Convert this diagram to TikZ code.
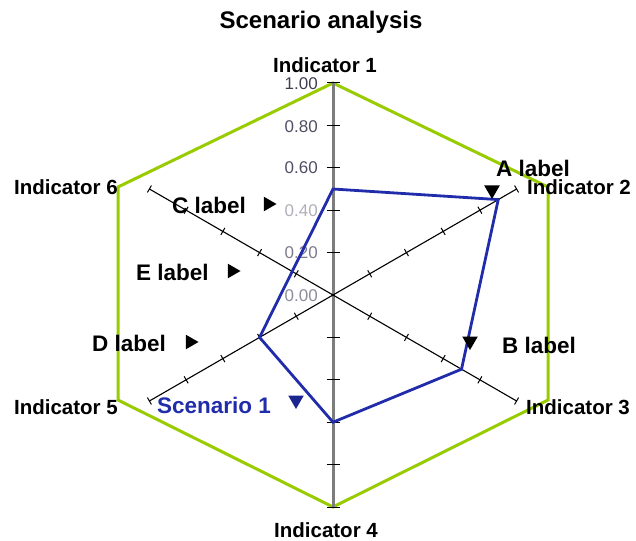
\documentclass[tikz,border=0pt]{standalone}
\usepackage{fontspec}
\setmainfont{Liberation Sans}
\usetikzlibrary{calc,shapes.geometric}
\definecolor{hexgreen}{RGB}{153,204,0}
\definecolor{scenblue}{RGB}{32,44,170}
\definecolor{axisgray}{RGB}{125,125,125}
\definecolor{ticklbl}{RGB}{80,78,100}
\begin{document}
\begin{tikzpicture}[x=1bp,y=-1bp,
  hexline/.style={draw=hexgreen,line width=3bp,line join=miter},
  scenline/.style={draw=scenblue,line width=2.8bp,line join=miter},
  vaxis/.style={draw=axisgray,line width=3bp},
  daxis/.style={draw=black,line width=1.1bp},
  tickmark/.style={draw=black,line width=1bp},
  title/.style={font=\fontsize{24bp}{28bp}\selectfont\bfseries,inner sep=0},
  indlabel/.style={font=\fontsize{20.5bp}{24bp}\selectfont\bfseries,inner sep=0},
  serlabel/.style={font=\fontsize{22.5bp}{26bp}\selectfont\bfseries,inner sep=0},
  numlabel/.style={font=\fontsize{17bp}{20bp}\selectfont,inner sep=0,anchor=east},
  downtri/.style={regular polygon,regular polygon sides=3,shape border rotate=180,fill=black,inner sep=0,minimum size=18bp},
  righttri/.style={regular polygon,regular polygon sides=3,shape border rotate=-90,fill=black,inner sep=0,minimum size=17bp}]
\useasboundingbox (0,0) rectangle (636,541);
% centre and axis ends
\coordinate (C) at (333,295);
\coordinate (A1) at (333,83);
\coordinate (A2) at (516.6,189);
\coordinate (A3) at (516.6,401);
\coordinate (A4) at (333,507);
\coordinate (A5) at (149.4,401);
\coordinate (A6) at (149.4,189);
% green outline vertices
\coordinate (G1) at (333,83);
\coordinate (G2) at (548,187);
\coordinate (G3) at (548,400);
\coordinate (G4) at (333,507);
\coordinate (G5) at (118,400);
\coordinate (G6) at (118,187);
% green hexagon
\draw[hexline] (G1) -- (G2) -- (G3) -- (G4) -- (G5) -- (G6) -- cycle;
% axes
\draw[vaxis] (A1) -- (A4);
\draw[daxis] (A2) -- (A5);
\draw[daxis] (A3) -- (A6);
% ticks on vertical axis
\foreach \a in {A1,A4}{
  \foreach \f in {0.2,0.4,0.6,0.8,1.0}{
    \draw[tickmark] ($(C)!\f!(\a)+(-6.5,0)$) -- ($(C)!\f!(\a)+(6.5,0)$);
  }
}
% ticks on diagonal axes
\foreach \a/\px/\py in {A2/-2/-3.46,A5/-2/-3.46,A3/2/-3.46,A6/2/-3.46}{
  \foreach \f in {0.2,0.4,0.6,0.8,1.0}{
    \draw[tickmark] ($(C)!\f!(\a)+(\px,\py)$) -- ($(C)!\f!(\a)-(\px,\py)$);
  }
}
% scale numbers
\node[numlabel,text=ticklbl!80!black] (n100) at (318,84) {1.00};
\node[numlabel,text=ticklbl] (n080) at (318,127) {0.80};
\node[numlabel,text=ticklbl] (n060) at (318,168) {0.60};
\node[numlabel,text=ticklbl!45] (n040) at (318,211) {0.40};
\node[numlabel,text=ticklbl!75] (n020) at (318,253) {0.20};
\node[numlabel,text=ticklbl!65] (n000) at (318,296) {0.00};
% scenario polygon
\coordinate (P1) at ($(C)!0.5!(A1)$);
\coordinate (P2) at ($(C)!0.9!(A2)$);
\coordinate (P3) at ($(C)!0.7!(A3)$);
\coordinate (P4) at ($(C)!0.6!(A4)$);
\coordinate (P5) at ($(C)!0.4!(A5)$);
\draw[scenline] (P1) -- (P2) -- (P3) -- (P4) -- (P5) -- cycle;
% title
\node[title] (title) at (321,22) {Scenario analysis};
% indicator labels
\node[indlabel] (i1) at (325,65) {Indicator 1};
\node[indlabel,anchor=west] (i2) at (527,187) {Indicator 2};
\node[indlabel,anchor=west] (i3) at (526,407) {Indicator 3};
\node[indlabel] (i4) at (326,530) {Indicator 4};
\node[indlabel,anchor=east] (i5) at (118,407) {Indicator 5};
\node[indlabel,anchor=east] (i6) at (118,187) {Indicator 6};
% series labels and markers
\node[serlabel,anchor=west] (la) at (496,168) {A label};
\node[downtri] (ma) at (492,190) {};
\node[serlabel,anchor=west] (lb) at (502,345) {B label};
\node[downtri] (mb) at (470,341) {};
\node[serlabel,anchor=west] (lc) at (172,205) {C label};
\node[righttri] (mc) at (268,204) {};
\node[serlabel,anchor=west] (le) at (136,272) {E label};
\node[righttri] (me) at (232,271) {};
\node[serlabel,anchor=west] (ld) at (92,343) {D label};
\node[righttri] (md) at (190,342) {};
\node[serlabel,anchor=west,text=scenblue] (ls) at (157,405) {Scenario 1};
\node[downtri,fill=scenblue!85!black] (ms) at (296,400) {};
\end{tikzpicture}
\end{document}
